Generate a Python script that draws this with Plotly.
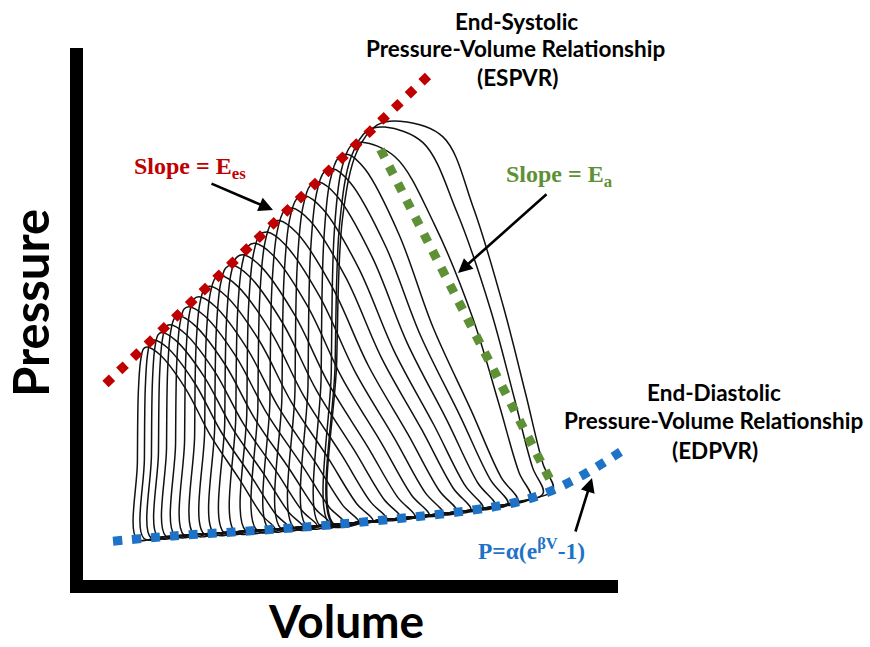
import numpy as np
import plotly.graph_objects as go

# ---------------- data (volume in mL-like units, pressure in mmHg-like units) ----------------
# End-diastolic pressure-volume relationship (EDPVR)
edpvr_v = [12, 36, 60, 84, 108, 132, 156, 172, 186, 200, 215]
edpvr_p = [11.1, 12.6, 13.7, 14.9, 16.3, 18.0, 20.0, 22.0, 25.1, 30.0, 36.6]

# End-systolic pressure-volume relationship (ESPVR)
espvr_v = [9, 138]
espvr_p = [56, 144]

# Arterial elastance line (Ea)
ea_v = [119, 188]
ea_p = [123, 27]

# Pressure-volume loops: start volume, peak volume, peak pressure, shoulder volume,
# volume at half-descent, end-diastolic volume
loop_v_start = [21.6, 24.4, 27.2, 30.0, 33.2, 36.8, 40.4, 44.4, 48.4, 52.4, 56.4,
                60.8, 65.2, 69.6, 74.4, 79.2, 84.4, 89.6, 94.8, 98.8, 100.0, 100.4]
loop_v_peak = [25.6, 28.4, 31.6, 34.8, 38.4, 42.4, 46.4, 50.8, 55.2, 59.6, 64.0,
               68.8, 73.6, 78.4, 83.6, 88.8, 94.4, 100.0, 106.0, 111.6, 120.8, 126.8]
loop_p_peak = [66.6, 68.6, 70.7, 72.9, 75.4, 78.1, 80.9, 83.9, 86.9, 89.9, 92.9,
               96.2, 99.4, 102.7, 106.3, 109.8, 113.7, 117.5, 121.6, 125.1, 129.4, 131.1]
loop_v_shoulder = [30.7, 33.8, 37.2, 40.7, 44.5, 48.6, 52.8, 57.3, 61.8, 66.4, 70.9,
                   75.8, 80.6, 85.5, 90.8, 95.9, 101.5, 107.0, 112.8, 125.0, 136.0, 144.0]
loop_v_half = [51.2, 55.4, 59.8, 64.2, 68.8, 73.6, 78.4, 83.4, 88.4, 93.4, 98.4,
               103.6, 108.8, 114.0, 119.4, 124.4, 129.7, 135.0, 140.0, 156.0, 163.0, 168.0]
loop_v_end = [76.8, 82.4, 88.0, 93.6, 99.2, 104.8, 110.4, 116.0, 121.6, 127.2, 132.8,
              138.4, 144.0, 149.6, 155.2, 160.0, 165.0, 170.0, 174.0, 179.0, 184.0, 188.0]

# ---------------- layout geometry (pixels) ----------------
W, H = 870, 647
PL, PR, PT, PB = 83, 640, 48, 580      # plot area in pixels
XMAX = (PR - PL) / 2.5
YMAX = (PB - PT) / 3.5


def px(x):
    return (x - PL) / (PR - PL)


def py(y):
    return (PB - y) / (PB - PT)


def base(v):
    return float(np.interp(v, edpvr_v, edpvr_p))


# loop template (fractions of the loop's width / height)
RISE_U = [0, 0.04, 0.13, 0.35, 0.65, 1.0]
RISE_H = [0, 0.4, 0.76, 0.925, 0.99, 1.0]
SHOULDER_H = 0.96
MID_H = 0.78
HALF_H = 0.52
LOW_U = [0.45, 0.8, 1.0]
LOW_H = [0.28, 0.08, 0.0]


def loop_xy(vl, vp, pp, vs, vh, vr):
    xs, ys = [], []

    def add(v, h):
        xs.append(v)
        ys.append(base(v) * (1 - h) + pp * h)

    for u, h in zip(RISE_U, RISE_H):
        add(vl + u * (vp - vl), h)
    add(vs, SHOULDER_H)
    add(vs + 0.5 * (vh - vs), MID_H)
    add(vh, HALF_H)
    for u, h in zip(LOW_U, LOW_H):
        add(vh + u * (vr - vh), h)
    for v in np.linspace(vr, vl, 7)[1:]:
        add(v, 0)
    return xs, ys


fig = go.Figure()

for vl, vp, pp, vs, vh, vr in zip(loop_v_start, loop_v_peak, loop_p_peak,
                                  loop_v_shoulder, loop_v_half, loop_v_end):
    lx, ly = loop_xy(vl, vp, pp, vs, vh, vr)
    fig.add_trace(go.Scatter(x=lx, y=ly, mode="lines",
                             line=dict(color="#111111", width=1.5, shape="spline", smoothing=1.0),
                             hoverinfo="skip", showlegend=False))

fig.add_trace(go.Scatter(x=edpvr_v, y=edpvr_p, mode="lines",
                         line=dict(color="#1F73C6", width=9, dash="9px,10px", shape="spline"),
                         showlegend=False, hoverinfo="skip"))
fig.add_trace(go.Scatter(x=espvr_v, y=espvr_p, mode="lines",
                         line=dict(color="#C00000", width=9, dash="9px,10px"),
                         showlegend=False, hoverinfo="skip"))
fig.add_trace(go.Scatter(x=ea_v, y=ea_p, mode="lines",
                         line=dict(color="#5E9135", width=9, dash="9px,10px"),
                         showlegend=False, hoverinfo="skip"))

# thick L-shaped axes
shapes = [
    dict(type="rect", xref="paper", yref="paper", x0=px(70), x1=px(83), y0=py(593), y1=py(48),
         fillcolor="black", line=dict(width=0)),
    dict(type="rect", xref="paper", yref="paper", x0=px(70), x1=px(618), y0=py(593), y1=py(580),
         fillcolor="black", line=dict(width=0)),
]

SANS = "Lato"
SERIF = "Liberation Serif"
ann = []


def text(x, y, s, size, color="black", family=SANS, angle=0):
    ann.append(dict(x=px(x), y=py(y), xref="paper", yref="paper", text=s, showarrow=False,
                    font=dict(family=family, size=size, color=color), textangle=angle,
                    xanchor="center", yanchor="middle"))


def arrow(x0, y0, x1, y1):
    ann.append(dict(x=px(x1), y=py(y1), xref="paper", yref="paper", ax=x0 - x1, ay=y0 - y1,
                    text="", showarrow=True, arrowhead=2, arrowsize=1.1, arrowwidth=2.6,
                    arrowcolor="black"))


text(516, 21, "<b>End-Systolic</b>", 22.5)
text(515, 49, "<b>Pressure-Volume Relationship</b>", 22.5)
text(517, 78, "<b>(ESPVR)</b>", 22.5)

text(714, 392, "<b>End-Diastolic</b>", 22.5)
text(713, 420, "<b>Pressure-Volume Relationship</b>", 22.5)
text(715, 450, "<b>(EDPVR)</b>", 22.5)

text(190, 168, "<b>Slope = E<sub>es</sub></b>", 24, "#C00000", SERIF)
text(559, 176, "<b>Slope = E<sub>a</sub></b>", 24, "#5E9135", SERIF)
text(531, 549, "<b>P=α(e<sup>βV</sup>-1)</b>", 23.5, "#1F73C6", SERIF)

text(30, 303, "<b>Pressure</b>", 49, angle=-90)
text(346, 620, "<b>Volume</b>", 46)

arrow(210, 183, 273, 210)
arrow(548, 193, 458, 273)
arrow(575, 533, 592, 478)

fig.update_layout(
    width=W, height=H,
    margin=dict(l=PL, r=W - PR, t=PT, b=H - PB, pad=0),
    paper_bgcolor="white", plot_bgcolor="white",
    xaxis=dict(range=[0, XMAX], visible=False, fixedrange=True),
    yaxis=dict(range=[0, YMAX], visible=False, fixedrange=True),
    shapes=shapes, annotations=ann, showlegend=False,
)

fig.write_html("out.html")
